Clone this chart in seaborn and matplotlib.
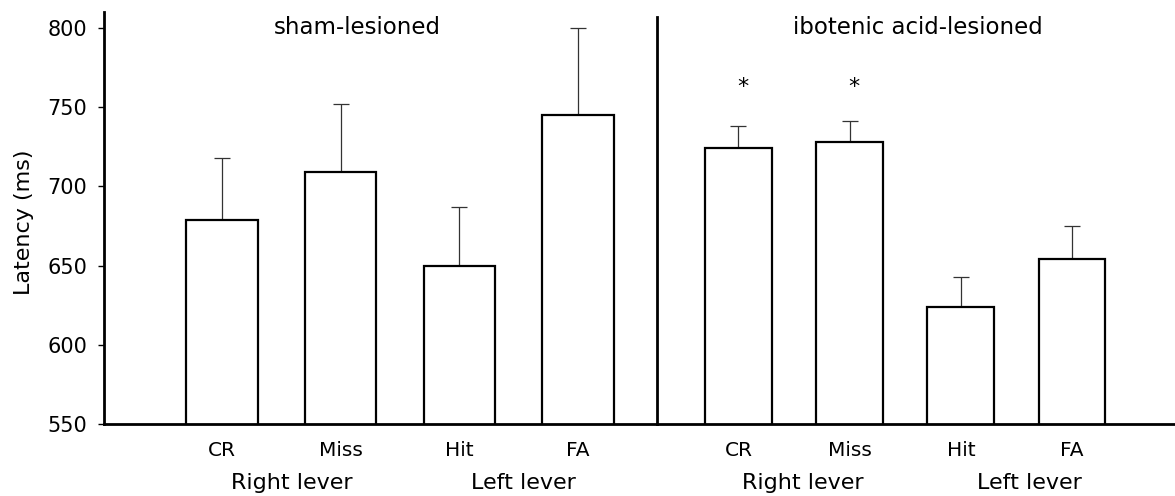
import numpy as np
import matplotlib
matplotlib.use("Agg")
import matplotlib.pyplot as plt
import matplotlib.transforms as mtransforms
import seaborn as sns

# ---------------- data ----------------
categories = ["CR", "Miss", "Hit", "FA"]
sham_means = [679, 709, 650, 745]
sham_errs = [39, 43, 37, 55]
ibo_means = [724, 728, 624, 654]
ibo_errs = [14, 13, 19, 21]
group_titles = ["sham-lesioned", "ibotenic acid-lesioned"]
lever_labels = ["Right lever", "Left lever"]
significant = [True, True, False, False]  # ibotenic group asterisks
y_ticks = [550, 600, 650, 700, 750, 800]

# ---------------- style ----------------
sns.set_theme(style="ticks")
plt.rcParams["font.family"] = ["DejaVu Sans"]
plt.rcParams["text.color"] = "black"
plt.rcParams["axes.labelcolor"] = "black"
plt.rcParams["xtick.color"] = "black"
plt.rcParams["ytick.color"] = "black"

fig = plt.figure(figsize=(11.75, 4.96), dpi=100)
ax1 = fig.add_axes([0.0885, 0.1452, 0.4706, 0.8306])
ax2 = fig.add_axes([0.5591, 0.1452, 0.4409, 0.8306])

ecol = "#333333"

def draw(ax, means, errs):
    sns.barplot(x=categories, y=means, ax=ax, color="white", edgecolor="black",
                linewidth=1.6, width=0.6, errorbar=None, saturation=1)
    ax.errorbar(range(len(means)), means, yerr=[np.zeros(len(errs)), errs],
                fmt="none", ecolor=ecol, elinewidth=0.9, capsize=5.5,
                capthick=0.9, zorder=0.5)
    ax.set_ylim(550, 810)
    for s in ["top", "right"]:
        ax.spines[s].set_visible(False)
    ax.spines["bottom"].set_linewidth(2)
    ax.spines["left"].set_linewidth(2)
    ax.spines["left"].set_color("black")
    ax.spines["bottom"].set_color("black")
    ax.tick_params(axis="x", length=0, pad=12, labelsize=14.5,
                   colors="black", labelcolor="black")
    ax.set_xlabel("")

draw(ax1, sham_means, sham_errs)
draw(ax2, ibo_means, ibo_errs)

ax1.set_xlim(-0.995, 3.666)
ax2.set_xlim(-0.733, 3.926)

ax1.set_yticks(y_ticks)
ax1.set_yticklabels([str(t) for t in y_ticks])
ax1.tick_params(axis="y", length=4, width=1, pad=8, labelsize=15,
                colors="black", labelcolor="black", direction="out")
ax1.set_ylabel("Latency (ms)", fontsize=16, color="black")
ax1.yaxis.set_label_coords(-0.127, 0.49)

ax2.set_yticks([])
ax2.spines["left"].set_bounds(550, 807)

# group titles
ax1.text(1.14, 800, group_titles[0], fontsize=16.5, ha="center", va="center",
         color="black")
ax2.text(1.61, 800, group_titles[1], fontsize=16.5, ha="center", va="center",
         color="black")

# asterisks
for i, sig in enumerate(significant):
    if sig:
        ax2.text(i + 0.04, 759, "*", fontsize=16, ha="center", va="baseline",
                 color="black")

# lever labels under the axis
for ax, xs in [(ax1, [0.59, 2.54]), (ax2, [0.58, 2.62])]:
    tr = mtransforms.blended_transform_factory(ax.transData, fig.transFigure)
    for x, lab in zip(xs, lever_labels):
        ax.text(x, 1 - 483 / 496, lab, fontsize=16, ha="center", va="center",
                transform=tr, clip_on=False, color="black")

fig.savefig("out.png", dpi=100, facecolor="white")
